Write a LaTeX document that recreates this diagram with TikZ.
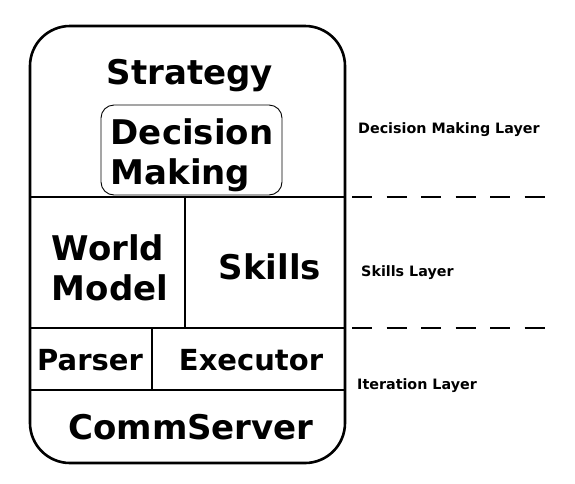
\documentclass[tikz,border=0pt]{standalone}
\usepackage{fontspec}
\setmainfont{DejaVu Sans}
\usepackage{tikz}
\usetikzlibrary{calc}

\tikzset{
    block/.style={font=\bfseries\fontsize{34}{40}\selectfont, inner sep=0pt},
    smallblock/.style={font=\bfseries\fontsize{29}{35}\selectfont, inner sep=0pt},
    layerlabel/.style={font=\bfseries\fontsize{14.3}{17}\selectfont, inner sep=0pt, anchor=base west},
    divider/.style={line width=1.3pt},
    layerline/.style={line width=1.2pt, dash pattern=on 20pt off 14.5pt}
}

\begin{document}
\begin{tikzpicture}[x=1pt, y=-1pt]
        \useasboundingbox (0, 0) rectangle (575, 483);

        % outer frame
        \draw[rounded corners=40pt, line width=2.6pt] (30, 26) rectangle (345, 463);

        % decision making box
        \draw[rounded corners=13pt, line width=0.9pt] (101, 105) rectangle (282, 195);

        % inner dividers
        \draw[divider] (30, 197) -- (345, 197);
        \draw[divider] (185, 197) -- (185, 328);
        \draw[divider] (30, 328) -- (345, 328);
        \draw[divider] (152, 328) -- (152, 390);
        \draw[divider] (30, 390) -- (345, 390);

        \node[block, anchor=base] (strategy) at (190, 84) {Strategy};
        \node[block, align=left, anchor=center] (decision) at (192, 155) {Decision\\Making};

        \node[block, align=left, anchor=center] (worldmodel) at (110, 268) {World\\Model};
        \node[block, anchor=base] (skills) at (270, 279) {Skills};

        \node[smallblock, anchor=base] (parser) at (90, 370) {Parser};
        \node[smallblock, anchor=base] (executor) at (251, 370) {Executor};
        \node[block, anchor=base] (commserver) at (191, 439) {CommServer};

        % layer separators
        \coordinate (upperstart) at (352, 197);
        \coordinate (upperend) at (547, 197);
        \coordinate (lowerstart) at (352, 328);
        \coordinate (lowerend) at (547, 328);
        \draw[layerline] (upperstart) -- (upperend);
        \draw[layerline] (lowerstart) -- (lowerend);

        \node[layerlabel] (dmlayer) at (358, 133) {Decision Making Layer};
        \node[layerlabel] (skillslayer) at (361, 276) {Skills Layer};
        \node[layerlabel] (iterlayer) at (357, 389) {Iteration Layer};

    \end{tikzpicture}
\end{document}
